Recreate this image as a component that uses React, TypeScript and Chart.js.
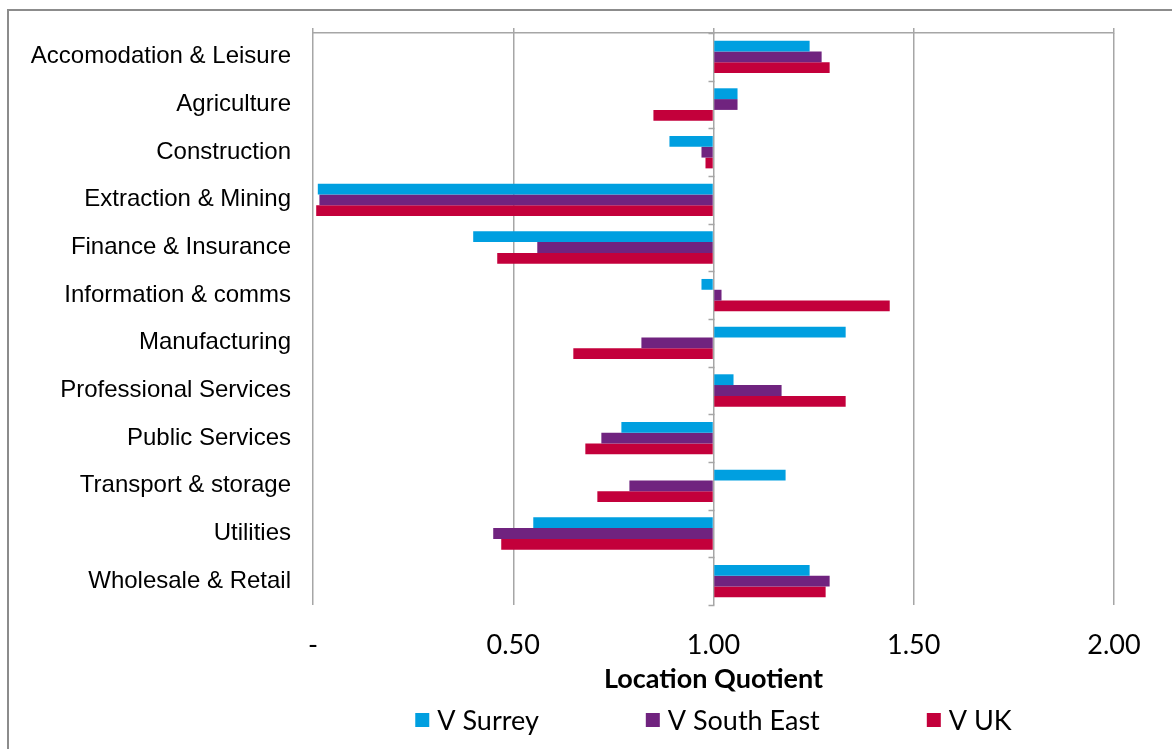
import React, { useEffect, useRef } from 'react';
import { Chart, registerables } from 'chart.js';

Chart.register(...registerables);

const categories = [
  'Accomodation & Leisure',
  'Agriculture',
  'Construction',
  'Extraction & Mining',
  'Finance & Insurance',
  'Information & comms',
  'Manufacturing',
  'Professional Services',
  'Public Services',
  'Transport & storage',
  'Utilities',
  'Wholesale & Retail',
];

const seriesNames = ['V Surrey', 'V South East', 'V UK'];
const seriesColors = ['#009FE0', '#70237F', '#C3003B'];

const surrey = [1.24, 1.06, 0.89, 0.012, 0.4, 0.97, 1.33, 1.05, 0.77, 1.18, 0.55, 1.24];
const southEast = [1.27, 1.06, 0.97, 0.016, 0.56, 1.02, 0.82, 1.17, 0.72, 0.79, 0.45, 1.29];
const uk = [1.29, 0.85, 0.98, 0.008, 0.46, 1.44, 0.65, 1.33, 0.68, 0.71, 0.47, 1.28];

const xTickLabels = ['-', '0.50', '1.00', '1.50', '2.00'];
const xTitle = 'Location Quotient';
const baseline = 1;

const GRID = '#a6a6a6';

const categoryTicksPlugin = {
  id: 'categoryTicks',
  afterDatasetsDraw(chart: any) {
    const xs = chart.scales.x;
    const ys = chart.scales.y;
    const ctx = chart.ctx;
    const x = Math.round(xs.getPixelForValue(baseline)) + 0.5;
    const n = categories.length;
    const step = n > 1 ? ys.getPixelForTick(1) - ys.getPixelForTick(0) : 0;
    ctx.save();
    ctx.strokeStyle = GRID;
    ctx.lineWidth = 1.5;
    for (let i = 0; i <= n; i++) {
      const y = Math.round(ys.getPixelForTick(0) - step / 2 + i * step) + 0.5;
      ctx.beginPath();
      ctx.moveTo(x - 6, y);
      ctx.lineTo(x, y);
      ctx.stroke();
    }
    ctx.restore();
  },
};

const customLegendPlugin = {
  id: 'customLegend',
  afterDraw(chart: any) {
    const ctx = chart.ctx;
    const xs = chart.scales.x;
    const area = chart.chartArea;
    const box = 14;
    const gapBoxText = 8;
    const gapItems = 107;
    ctx.save();
    ctx.font = '27px Lato';
    const items = chart.data.datasets.map((ds: any) => ({
      label: ds.label as string,
      color: ds.backgroundColor as string,
      w: box + gapBoxText + ctx.measureText(ds.label).width,
    }));
    const total = items.reduce((s: number, it: any) => s + it.w, 0) + gapItems * (items.length - 1);
    let x = (area.left + area.right) / 2 - total / 2;
    const y = xs.bottom + 25;
    ctx.textBaseline = 'middle';
    ctx.textAlign = 'left';
    for (const it of items) {
      ctx.fillStyle = it.color;
      ctx.fillRect(x, y - box / 2, box, box);
      ctx.fillStyle = '#000';
      ctx.fillText(it.label, x + box + gapBoxText, y + 1);
      x += it.w + gapItems;
    }
    ctx.restore();
  },
};

export default function App() {
  const ref = useRef<HTMLCanvasElement | null>(null);

  useEffect(() => {
    if (!ref.current) return;
    const seriesData = [surrey, southEast, uk];
    const chart = new Chart(ref.current, {
      type: 'bar',
      data: {
        labels: categories,
        datasets: seriesNames.map((name, i) => ({
          label: name,
          data: seriesData[i],
          backgroundColor: seriesColors[i],
          borderWidth: 0,
          base: baseline,
          categoryPercentage: 0.68,
          barPercentage: 1,
        })),
      },
      options: {
        indexAxis: 'y',
        responsive: false,
        animation: false,
        layout: { padding: { left: 0, right: 58, top: 33, bottom: 54 } },
        plugins: {
          legend: { display: false },
          tooltip: { enabled: false },
        },
        scales: {
          x: {
            type: 'linear',
            position: 'bottom',
            min: 0,
            max: 2,
            ticks: {
              stepSize: 0.5,
              padding: 24,
              color: '#000',
              font: { family: 'Lato', size: 27 },
              maxRotation: 0,
              callback: (_v: any, idx: number) => xTickLabels[idx],
            },
            grid: { color: GRID, lineWidth: 1.5, drawTicks: false },
            border: { display: false },
            title: {
              display: true,
              text: xTitle,
              color: '#000',
              font: { family: 'Lato', size: 27, weight: 'bold' },
              padding: { top: 1, bottom: 0 },
            },
            afterFit: (s: any) => {
              s.height = 90;
            },
          },
          x2: {
            type: 'linear',
            position: 'top',
            min: 0,
            max: 2,
            ticks: { display: false, stepSize: 0.5 },
            grid: { drawOnChartArea: false, drawTicks: true, tickLength: 5, color: GRID, lineWidth: 1.5 },
            border: { display: true, color: GRID, width: 1.5 },
            afterFit: (s: any) => {
              s.height = 0;
            },
          },
          y: {
            type: 'category',
            position: 'left',
            grid: { display: false, drawTicks: false },
            border: { display: false },
            ticks: {
              padding: 22,
              color: '#000',
              font: { family: "'Liberation Sans', Arial, sans-serif", size: 24 },
              autoSkip: false,
            },
            afterFit: (s: any) => {
              s.width = 313;
              s.paddingTop = 0;
              s.paddingBottom = 0;
            },
          },
        },
      },
      plugins: [categoryTicksPlugin, customLegendPlugin],
    } as any);
    return () => chart.destroy();
  }, []);

  return (
    <div>
      <div
        style={{
          position: 'absolute',
          left: 7,
          top: 9,
          width: 1163,
          height: 738,
          borderLeft: '2px solid #8c8c8c',
          borderTop: '2px solid #8c8c8c',
        }}
      />
      <div style={{ position: 'absolute', left: 0, top: 0, width: 1172, height: 749 }}>
        <canvas ref={ref} width={1172} height={749} style={{ display: 'block' }} />
      </div>
    </div>
  );
}
